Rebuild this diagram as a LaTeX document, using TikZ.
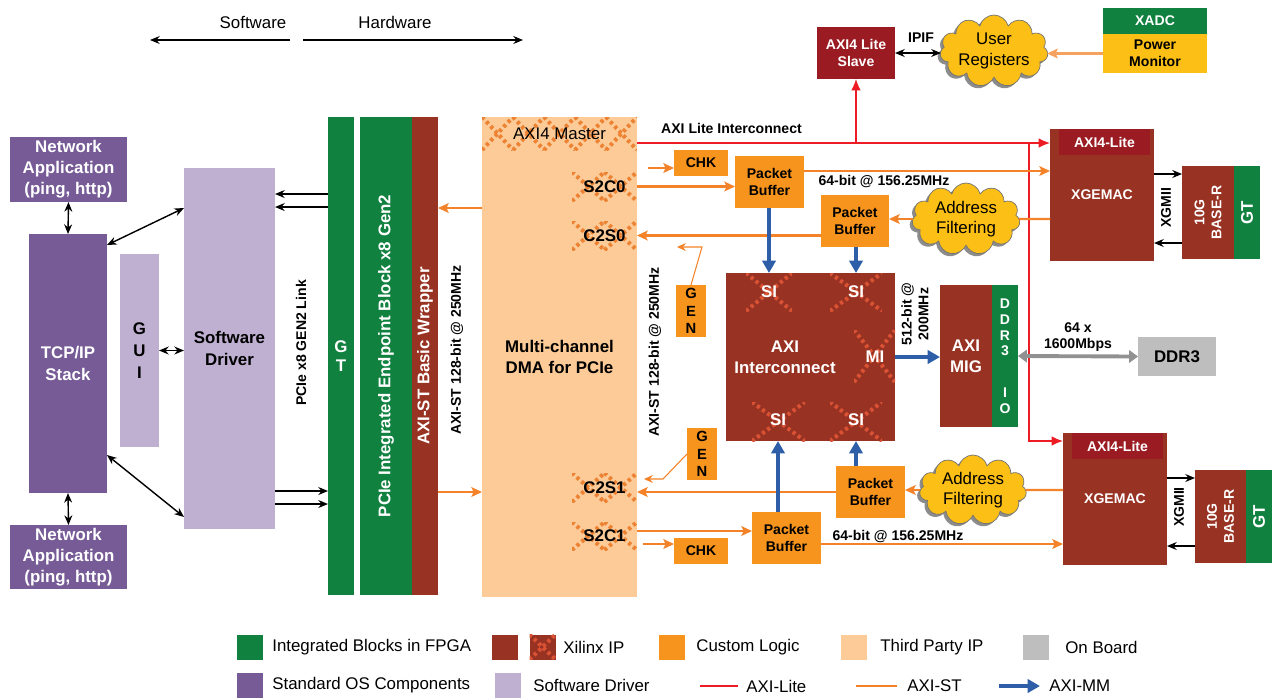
\documentclass[tikz,border=0pt]{standalone}
\usepackage{fontspec}
\setmainfont{Liberation Sans}
\usepackage{xcolor}
\usetikzlibrary{shapes,shapes.symbols,arrows.meta,positioning,calc,shadows}
\definecolor{fpgagreen}{RGB}{17,129,64}
\definecolor{xilinxred}{RGB}{152,50,34}
\definecolor{litered}{RGB}{154,27,34}
\definecolor{custorange}{RGB}{247,148,30}
\definecolor{thirdpeach}{RGB}{253,203,152}
\definecolor{boardgray}{RGB}{190,190,190}
\definecolor{osviolet}{RGB}{118,91,151}
\definecolor{drvlilac}{RGB}{191,176,210}
\definecolor{cloudyellow}{RGB}{251,191,21}
\definecolor{axilite}{RGB}{237,28,36}
\definecolor{axist}{RGB}{243,130,40}
\definecolor{aximm}{RGB}{46,94,168}
\definecolor{ddrgray}{RGB}{145,145,145}
\definecolor{hatchpeach}{RGB}{236,130,50}
\definecolor{hatchred}{RGB}{218,82,52}

% x1,y1,x2,y2, number of crosses, colour
\newcommand{\xpat}[6]{%
  \begin{scope}
    \clip (#1,#2) rectangle (#3,#4);
    \pgfmathsetmacro{\xpatw}{(#3-#1)/#5}
    \foreach \k in {1,...,#5} {
      \draw[hatch=#6] ({#1+(\k-1)*\xpatw},#2) -- ({#1+\k*\xpatw},#4);
      \draw[hatch=#6] ({#1+(\k-1)*\xpatw},#4) -- ({#1+\k*\xpatw},#2);
    }
  \end{scope}}

\tikzset{
  blk/.style={rectangle, inner sep=0pt, outer sep=0pt, align=center},
  sz/.style 2 args={minimum width=#1*0.02cm, minimum height=#2*0.02cm},
  bigfont/.style={font=\fontsize{9.6}{12}\selectfont\bfseries},
  smallfont/.style={font=\fontsize{8}{9.6}\selectfont\bfseries},
  plainfont/.style={font=\fontsize{9.6}{11.5}\selectfont},
  osblock/.style={blk, bigfont, fill=osviolet, text=white},
  drvblock/.style={blk, bigfont, fill=drvlilac},
  fpgablock/.style={blk, bigfont, fill=fpgagreen, text=white},
  xipblock/.style={blk, bigfont, fill=xilinxred, text=white},
  liteblock/.style={blk, smallfont, fill=litered, text=white},
  custblock/.style={blk, smallfont, fill=custorange},
  tpblock/.style={blk, bigfont, fill=thirdpeach},
  boardblock/.style={blk, bigfont, fill=boardgray},
  port/.style={blk, bigfont},
  vtext/.style={rotate=90, text=white, bigfont, align=center, inner sep=0pt},
  vsmall/.style={rotate=90, smallfont, align=center, inner sep=0pt},
  cloudbox/.style={cloud, cloud puffs=11, cloud ignores aspect, fill=cloudyellow, draw=black!55,
    inner sep=0pt, outer sep=0pt, plainfont, align=center,
    drop shadow={shadow xshift=-1.5pt, shadow yshift=-1.5pt, fill=black!45, opacity=1}},
  bk/.style={draw=black, line width=0.8pt, -{Stealth[length=5.5pt,width=4.5pt]}},
  bkboth/.style={draw=black, line width=0.8pt, {Stealth[length=5.5pt,width=4.5pt]}-{Stealth[length=5.5pt,width=4.5pt]}},
  st/.style={draw=axist, line width=1.3pt, -{Stealth[length=6pt,width=5.5pt,inset=1.2pt]}},
  stline/.style={draw=axist, line width=1.3pt},
  stthin/.style={draw=axist, line width=0.6pt, -{Stealth[length=5pt,width=4.5pt]}},
  lite/.style={draw=axilite, line width=0.7pt, -{Latex[length=6.5pt,width=5.5pt]}},
  liteline/.style={draw=axilite, line width=0.7pt},
  mm/.style={draw=aximm, line width=1.9pt, -{Triangle[length=7pt,width=7.5pt]}},
  ddrlink/.style={draw=ddrgray, line width=2.2pt, {Triangle[length=5pt,width=7pt]}-{Triangle[length=5pt,width=7pt]}},
  hatch/.style={draw=#1, line width=2.3pt, dash pattern=on 1.8pt off 1.8pt},
  lgtext/.style={inner sep=0pt, font=\fontsize{9.6}{11}\selectfont}
}

\begin{document}
\begin{tikzpicture}[x=0.02cm, y=-0.02cm]
\useasboundingbox (0,0) rectangle (1272,698);

% software / hardware split
\node[plainfont] (swtxt) at (253,22) {Software};
\node[plainfont] (hwtxt) at (395,22) {Hardware};
\coordinate (swA) at (290,40);
\coordinate (swB) at (150,40);
\coordinate (hwA) at (303,40);
\coordinate (hwB) at (523,40);
\draw[bk] (swA) -- (swB);
\draw[bk] (hwA) -- (hwB);

% host side
\node[osblock, sz={117}{65}] (nettop) at (68.5,169.5) {Network\\Application\\(ping, http)};
\node[osblock, sz={78}{259}] (tcp) at (68,363.5) {TCP/IP\\Stack};
\node[osblock, sz={117}{64}] (netbot) at (68.5,557) {Network\\Application\\(ping, http)};
\node[drvblock, sz={39}{193}, font=\fontsize{9.6}{12.5}\selectfont\bfseries] (gui) at (139.5,350.5) {G\\U\\I};
\node[drvblock, sz={91}{361}] (drv) at (229.5,348.5) {Software\\Driver};

\draw[bkboth] (nettop.south) -- (tcp.north);
\draw[bkboth] (tcp.south) -- (netbot.north);
\draw[bkboth] (tcp.east |- 0,245) -- (drv.west |- 0,208);
\draw[bkboth] (tcp.east |- 0,455) -- (drv.west |- 0,517);
\draw[bkboth] (gui.east) -- (drv.west |- gui.east);

% PCIe hard blocks
\node[fpgablock, sz={26}{478}, font=\fontsize{9.6}{10.8}\selectfont\bfseries] (gt) at (341,356) {G\\T};
\node[fpgablock, sz={52}{478}, label={[vtext]center:PCIe Integrated Endpoint Block x8 Gen2}] (pcie) at (386,356) {};
\node[xipblock, sz={26}{478}, label={[vtext]center:AXI-ST Basic Wrapper}] (wrap) at (425,356) {};
\node[vsmall] (pcielink) at (301,343) {PCIe x8 GEN2 Link};
\node[vsmall] (stlinkA) at (457,350) {AXI-ST 128-bit @ 250MHz};

\draw[bk] (gt.west |- 0,194) -- (drv.east |- 0,194);
\draw[bk] (gt.west |- 0,207) -- (drv.east |- 0,207);
\draw[bk] (drv.east |- 0,491) -- (gt.west |- 0,491);
\draw[bk] (drv.east |- 0,504) -- (gt.west |- 0,504);

% DMA
\node[tpblock, sz={155}{480}] (dma) at (559.5,357) {Multi-channel\\DMA for PCIe};
\xpat{482}{117}{637}{150}{5}{hatchpeach}
\node[blk, plainfont, sz={155}{33}] (master) at (559.5,133.5) {AXI4 Master};
\xpat{572}{172}{637}{201}{2}{hatchpeach}
\xpat{572}{221}{637}{250}{2}{hatchpeach}
\xpat{572}{473}{637}{502}{2}{hatchpeach}
\xpat{572}{522}{637}{550}{2}{hatchpeach}
\node[port, sz={65}{29}] (s2c0) at (604.5,186.5) {S2C0};
\node[port, sz={65}{29}] (c2s0) at (604.5,235.5) {C2S0};
\node[port, sz={65}{29}] (c2s1) at (604.5,487.5) {C2S1};
\node[port, sz={65}{29}] (s2c1) at (604.5,536) {S2C1};
\node[vsmall] (stlinkB) at (655,352) {AXI-ST 128-bit @ 250MHz};

\draw[st] (dma.west |- 0,208) -- (wrap.east |- 0,208);
\draw[st] (wrap.east |- 0,492) -- (dma.west |- 0,492);

% custom logic
\node[custblock, sz={54}{26}] (chkA) at (701,163) {CHK};
\node[custblock, sz={54}{26}] (chkB) at (701,551) {CHK};
\node[custblock, sz={69}{52}] (pbA) at (769.5,182) {Packet\\Buffer};
\node[custblock, sz={68}{52}] (pbB) at (855,221) {Packet\\Buffer};
\node[custblock, sz={69}{52}] (pbC) at (870.5,492) {Packet\\Buffer};
\node[custblock, sz={69}{52}] (pbD) at (786.5,538) {Packet\\Buffer};
\node[custblock, sz={30}{52}, font=\fontsize{8.4}{9.9}\selectfont\bfseries] (genA) at (691,311) {G\\E\\N};
\node[custblock, sz={30}{52}, font=\fontsize{8.4}{9.9}\selectfont\bfseries] (genB) at (702,454) {G\\E\\N};
\node[cloudbox, sz={108}{72}] (afA) at (966,219) {Address\\Filtering};
\node[cloudbox, sz={107}{70}] (afB) at (973,490) {Address\\Filtering};

% AXI interconnect and memory
\node[xipblock, sz={169}{168}, label={[blk, bigfont, text=white, xshift=-0.51cm]center:AXI\\Interconnect}] (ic) at (810.5,357) {};
\xpat{746}{273}{792}{311}{1}{hatchred}
\xpat{830}{273}{882}{311}{1}{hatchred}
\xpat{854}{330}{895}{382}{1}{hatchred}
\xpat{752}{402}{805}{441}{1}{hatchred}
\xpat{830}{402}{882}{441}{1}{hatchred}
\node[blk, bigfont, text=white] (siA) at (769,292) {SI};
\node[blk, bigfont, text=white] (siB) at (856,292) {SI};
\node[blk, bigfont, text=white] (mi) at (875,357) {MI};
\node[blk, bigfont, text=white] (siC) at (778,420) {SI};
\node[blk, bigfont, text=white] (siD) at (856,420) {SI};

\node[xipblock, sz={52}{142}] (mig) at (966,356) {AXI\\MIG};
\node[fpgablock, sz={26}{142}, font=\fontsize{8}{9}\selectfont\bfseries] (ddrio) at (1005,356) {D\\D\\R\\3\\[14.5pt]I\\O};
\node[boardblock, sz={78}{39}] (ddr) at (1177,356.5) {DDR3};
\node[vsmall] (migrate) at (915,314) {512-bit @\\200MHz};
\node[smallfont, align=center] (ddrrate) at (1078,337) {64 x\\1600Mbps};

% register path
\node[liteblock, sz={78}{52}] (slave) at (856,53) {AXI4 Lite\\Slave};
\node[cloudbox, sz={108}{72}] (ureg) at (994,51) {User\\Registers};
\node[smallfont] (ipif) at (921,38) {IPIF};
\node[fpgablock, smallfont, sz={104}{26}] (xadc) at (1155,21) {XADC};
\node[blk, smallfont, fill=cloudyellow, sz={104}{39}] (pmon) at (1155,53.5) {Power\\Monitor};
\draw[bkboth] (slave.east) -- (slave.east -| ureg.west);
\draw[draw=axist!75, line width=1.2pt, -{Stealth[length=6pt,width=5.5pt,inset=1.2pt]}] (pmon.west) -- (pmon.west -| ureg.east);

% 10G ports
\node[xipblock, smallfont, sz={104}{132}] (xgA) at (1102,195) {XGEMAC};
\node[liteblock, sz={91}{26}] (hdA) at (1104.5,142) {AXI4-Lite};
\node[xipblock, sz={52}{93}, label={[vsmall, text=white]center:10G\\BASE-R}] (baseA) at (1208,212.5) {};
\node[fpgablock, sz={26}{93}, label={[vtext]center:GT}] (gtA) at (1247,212.5) {};
\node[vsmall] (xgmiiA) at (1166,208) {XGMII};

\node[xipblock, smallfont, sz={104}{132}] (xgB) at (1115,499) {XGEMAC};
\node[liteblock, sz={91}{26}] (hdB) at (1117.5,446) {AXI4-Lite};
\node[xipblock, sz={51}{93}, label={[vsmall, text=white]center:10G\\BASE-R}] (baseB) at (1220.5,516.5) {};
\node[fpgablock, sz={26}{93}, label={[vtext]center:GT}] (gtB) at (1259,516.5) {};
\node[vsmall] (xgmiiB) at (1179,507) {XGMII};

\coordinate (gmA1) at ($(baseA.north west)+(0,8)$);
\coordinate (gmA2) at ($(baseA.south west)+(0,-16)$);
\coordinate (gmB1) at ($(baseB.north west)+(0,8)$);
\coordinate (gmB2) at ($(baseB.south west)+(0,-17)$);
\draw[bk] (xgA.east |- gmA1) -- (gmA1);
\draw[bk] (gmA2) -- (xgA.east |- gmA2);
\draw[bk] (xgB.east |- gmB1) -- (gmB1);
\draw[bk] (gmB2) -- (xgB.east |- gmB2);

% AXI-Lite
\node[smallfont, anchor=west] (litelbl) at (655,128) {AXI Lite Interconnect};
\coordinate (litetap) at (1029,143);
\draw[lite] (dma.east |- litetap) -- (xgA.west |- litetap);
\draw[lite] (slave |- litetap) -- (slave.south);
\draw[lite] (litetap) |- (xgB.west |- 0,441);

% AXI-ST
\coordinate (chkAin) at (648,168);
\coordinate (chkBin) at (643,544);
\draw[st] (chkAin) -- (chkAin -| chkA.west);
\draw[st] (s2c0.east) -- (s2c0.east -| pbA.west);
\draw[st] (pbA.east |- 0,171) -- (xgA.west |- 0,171);
\draw[stline] (xgA.west |- afA) -- (afA.east);
\draw[st] (afA.west) -- (afA.west -| pbB.east);
\draw[st] (pbB.west |- c2s0) -- (c2s0.east);
\draw[stthin] (genA.north) -- ++(11,-38) -- ++(-25,0);
\draw[stthin] (genB.west) -- ++(-24,25) -- ++(-19,0);
\draw[stline] (xgB.west |- afB) -- (afB.east);
\draw[st] (afB.west) -- (afB.west -| pbC.east);
\draw[st] (pbC.west) -- (pbC.west -| c2s1.east);
\draw[st] (s2c1.east |- 0,531) -- (pbD.west |- 0,531);
\draw[st] (chkBin) -- (chkBin -| chkB.west);
\draw[st] (pbD.east |- 0,544) -- (xgB.west |- 0,544);
\node[smallfont] (rateA) at (884,182) {64-bit @ 156.25MHz};
\node[smallfont] (rateB) at (898,537) {64-bit @ 156.25MHz};

% AXI-MM
\draw[mm] (pbA.south -| siA) -- (siA |- ic.north);
\draw[mm] (pbB.south -| siB) -- (siB |- ic.north);
\draw[mm] (pbD.north -| siC) -- (siC |- ic.south);
\draw[mm] (pbC.north -| siD) -- (siD |- ic.south);
\draw[mm] (ic.east |- mi) -- (mig.west |- mi);
\draw[ddrlink] (ddrio.east) -- (ddr.west);

% legend
\node[blk, fill=fpgagreen, sz={26}{25}] (lgfpga) at (249.5,647) {};
\node[lgtext, right=0.19cm of lgfpga] (lgfpgatxt) {Integrated Blocks in FPGA};
\node[blk, fill=xilinxred, sz={26}{25}] (lgxil) at (504.5,647) {};
\node[blk, fill=xilinxred, sz={26}{25}] (lgxilpat) at (542.5,647) {};
\xpat{529.5}{634.5}{555.5}{659.5}{1}{hatchred}
\node[lgtext, right=0.15cm of lgxilpat] (lgxiltxt) {Xilinx IP};
\node[blk, fill=custorange, sz={26}{25}] (lgcust) at (671.5,647) {};
\node[lgtext, right=0.23cm of lgcust] (lgcusttxt) {Custom Logic};
\node[blk, fill=thirdpeach, sz={26}{25}] (lgthird) at (854,647) {};
\node[lgtext, right=0.26cm of lgthird] (lgthirdtxt) {Third Party IP};
\node[blk, fill=boardgray, sz={26}{25}] (lgboard) at (1036,647) {};
\node[lgtext, right=0.32cm of lgboard] (lgboardtxt) {On Board};

\node[blk, fill=osviolet, sz={26}{25}] (lgos) at (249.5,685) {};
\node[lgtext, right=0.19cm of lgos] (lgostxt) {Standard OS Components};
\node[blk, fill=drvlilac, sz={26}{25}] (lgdrv) at (508,685) {};
\node[lgtext, right=0.24cm of lgdrv] (lgdrvtxt) {Software Driver};
\coordinate (lgliteA) at (700,686);
\coordinate (lgliteB) at (738,686);
\draw[liteline] (lgliteA) -- (lgliteB);
\node[lgtext, right=0.16cm of lgliteB] (lglitetxt) {AXI-Lite};
\coordinate (lgstA) at (856,686);
\coordinate (lgstB) at (897,686);
\draw[stline, line width=1.6pt] (lgstA) -- (lgstB);
\node[lgtext, right=0.2cm of lgstB] (lgsttxt) {AXI-ST};
\coordinate (lgmmA) at (999,686);
\coordinate (lgmmB) at (1040,686);
\draw[mm] (lgmmA) -- (lgmmB);
\node[lgtext, right=0.18cm of lgmmB] (lgmmtxt) {AXI-MM};
\end{tikzpicture}
\end{document}
